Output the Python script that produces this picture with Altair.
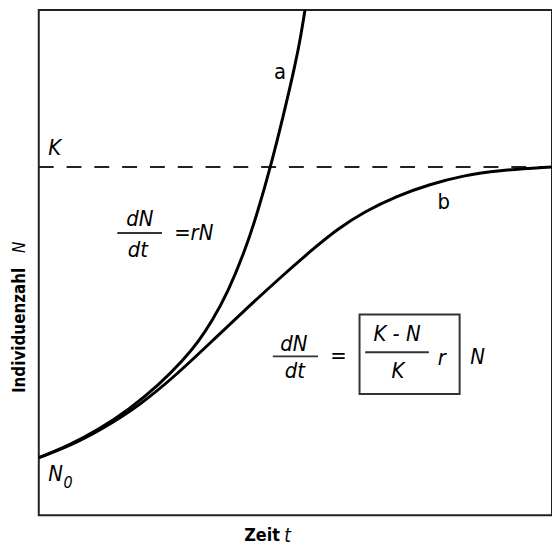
import altair as alt
import pandas as pd

# Curve a: exponential growth  (t = Zeit, N = Individuenzahl, % of plot height)
a_t = [0.0, 0.60, 1.18, 1.76, 2.34, 2.82, 3.11, 3.37, 3.69, 4.02, 4.27, 4.51, 4.76, 4.99, 5.11, 5.20]
a_N = [11.3, 13.8, 16.9, 20.8, 25.6, 30.5, 34.1, 38.0, 43.9, 52.0, 59.7, 68.2, 78.2, 88.1, 94.3, 100.0]

# Curve b: logistic growth
b_t = [0.0, 0.60, 1.18, 1.95, 2.73, 3.44, 4.08, 4.72, 5.38, 5.82, 6.34, 6.98, 7.62, 8.28, 8.92, 10.0]
b_N = [11.3, 13.6, 16.6, 21.4, 28.0, 34.8, 40.9, 46.8, 52.6, 56.2, 59.6, 62.7, 65.0, 66.7, 67.7, 68.4]

K_value = 68.4

# Fraction bars (t start, t end, N)
bar_t1 = [1.53, 4.56, 6.36]
bar_t2 = [2.40, 5.44, 7.60]
bar_N = [55.4, 31.2, 32.0]

# Box around (K-N)/K r
box_t = [6.25]
box_t2 = [8.20]
box_N = [39.4]
box_N2 = [23.8]

# Italic text
it_label = ["K", "dN", "dt", "=rN", "dN", "dt", "=", "K - N", "K", "r", "N", "N", "0", "t", "N"]
it_t = [0.31, 1.97, 1.93, 3.02, 4.97, 4.99, 5.84, 6.98, 7.00, 7.85, 8.55, 0.33, 0.57, 4.85, -0.36]
it_N = [72.1, 58.1, 52.0, 55.4, 33.7, 28.3, 31.2, 35.5, 28.3, 30.8, 31.0, 8.0, 6.4, -4.1, 52.6]
it_size = [22, 22, 22, 22, 22, 22, 22, 22, 22, 22, 22, 22, 16, 19, 17]
it_angle = [0, 0, 0, 0, 0, 0, 0, 0, 0, 0, 0, 0, 0, 0, 270]

# Regular text (curve labels)
lb_label = ["a", "b"]
lb_t = [4.70, 7.89]
lb_N = [87.1, 61.4]
lb_size = [22, 22]

# Axis titles
ax_label = ["Zeit", "Individuenzahl"]
ax_t = [4.35, -0.36]
ax_N = [-4.1, 36.3]
ax_size = [18, 17]
ax_angle = [0, 270]

FONT = "DejaVu Sans Condensed, Liberation Sans Narrow, sans-serif"

xs = alt.Scale(domain=[0, 10], nice=False)
ys = alt.Scale(domain=[0, 99.2], nice=False)
X = alt.X("t:Q", scale=xs, axis=None)
Y = alt.Y("N:Q", scale=ys, axis=None)

curves = pd.DataFrame({
    "t": a_t + b_t,
    "N": a_N + b_N,
    "curve": ["a"] * len(a_t) + ["b"] * len(b_t),
})

lines = alt.Chart(curves).mark_line(
    color="black", strokeWidth=3, interpolate="basis", clip=True
).encode(x=X, y=Y, detail="curve:N", order="t:Q")

kdf = pd.DataFrame({"t": [0.0], "t2": [10.0], "N": [K_value]})
kline = alt.Chart(kdf).mark_rule(color="#222", strokeWidth=2, strokeDash=[15, 13]).encode(
    x=X, x2="t2:Q", y=Y,
)

bdf = pd.DataFrame({"t": bar_t1, "t2": bar_t2, "N": bar_N})
bars = alt.Chart(bdf).mark_rule(color="#333", strokeWidth=2).encode(x=X, x2="t2:Q", y=Y)

boxdf = pd.DataFrame({"t": box_t, "t2": box_t2, "N": box_N, "N2": box_N2})
box = alt.Chart(boxdf).mark_rect(fillOpacity=0, stroke="#333", strokeWidth=2).encode(
    x=X, x2="t2:Q", y=Y, y2="N2:Q",
)

itdf = pd.DataFrame({"label": it_label, "t": it_t, "N": it_N, "size": it_size, "angle": it_angle})
ittext = alt.Chart(itdf).mark_text(
    font=FONT, fontStyle="italic", color="black", align="center", baseline="middle"
).encode(
    x=X, y=Y, text="label:N",
    size=alt.Size("size:Q", scale=None, legend=None),
    angle=alt.Angle("angle:Q", scale=None),
)

lbdf = pd.DataFrame({"label": lb_label, "t": lb_t, "N": lb_N, "size": lb_size})
lbtext = alt.Chart(lbdf).mark_text(
    font=FONT, color="black", align="center", baseline="middle"
).encode(
    x=X, y=Y, text="label:N",
    size=alt.Size("size:Q", scale=None, legend=None),
)

axdf = pd.DataFrame({"label": ax_label, "t": ax_t, "N": ax_N, "size": ax_size, "angle": ax_angle})
axtext = alt.Chart(axdf).mark_text(
    font=FONT, fontWeight="bold", color="black", align="center", baseline="middle"
).encode(
    x=X, y=Y, text="label:N",
    size=alt.Size("size:Q", scale=None, legend=None),
    angle=alt.Angle("angle:Q", scale=None),
)

chart = alt.layer(kline, lines, bars, box, ittext, lbtext, axtext).properties(
    width=517, height=509,
    autosize=alt.AutoSizeParams(type="none"),
    padding={"left": 31, "top": 0, "right": 0, "bottom": 40},
).configure_view(stroke="#222", strokeWidth=2)

chart.save("out.html", embed_options={"renderer": "svg", "actions": False})
